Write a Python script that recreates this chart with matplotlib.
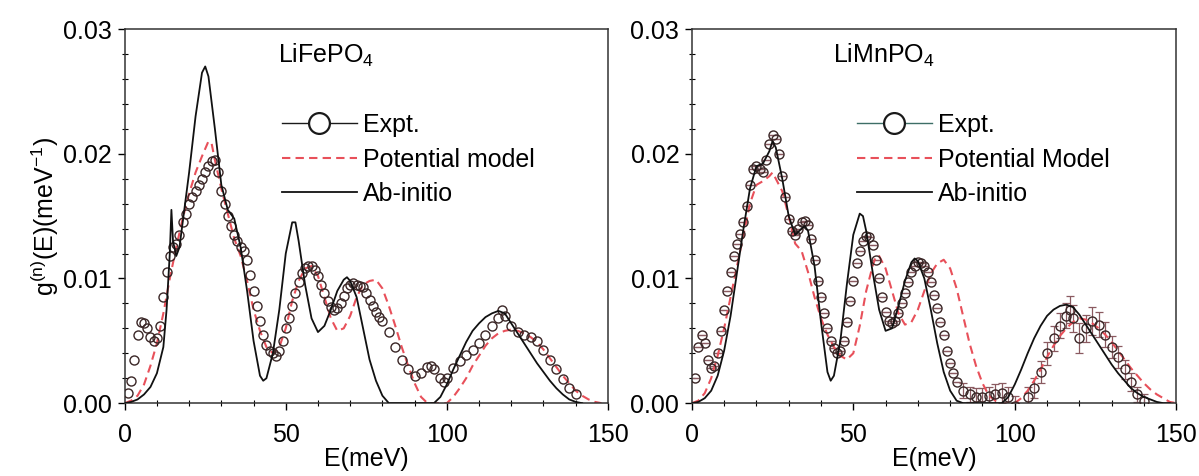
import numpy as np
import matplotlib
matplotlib.use("Agg")
import matplotlib.pyplot as plt
from matplotlib.lines import Line2D
from matplotlib.ticker import MultipleLocator, FormatStrFormatter

plt.rcParams['font.family'] = ['Liberation Sans', 'DejaVu Sans']
plt.rcParams['mathtext.default'] = 'regular'

# ---- LiFePO4 ----
fe_exp_E = [1, 2, 3, 4, 5, 6, 7, 8, 9, 10, 11, 12, 13, 14, 15, 16, 17, 18, 19, 20,
            21, 22, 23, 24, 25, 26, 27, 28, 29, 30, 31, 32, 33, 34, 35, 36, 37, 38, 39, 40,
            41, 42, 43, 44, 45, 46, 47, 48, 49, 50, 51, 52, 53, 54, 55, 56, 57, 58, 59, 60,
            61, 62, 63, 64, 65, 66, 67, 68, 69, 70, 71, 72, 73, 74, 75, 76, 77, 78, 79, 80,
            82, 84, 86, 88, 90, 92, 94, 95, 96, 98, 99, 100, 102, 104, 106, 108, 110, 112,
            114, 116, 117, 118, 120, 122, 124, 126, 128, 130, 132, 134, 136, 138, 140]
fe_exp_g = [0.0008, 0.0018, 0.0035, 0.0055, 0.0065, 0.0064, 0.0060, 0.0053, 0.0050, 0.0052,
            0.0062, 0.0085, 0.0105, 0.0118, 0.0125, 0.0128, 0.0135, 0.0145, 0.0152, 0.0160,
            0.0165, 0.0170, 0.0175, 0.0180, 0.0185, 0.0190, 0.0194, 0.0195, 0.0185, 0.0170,
            0.0160, 0.0150, 0.0142, 0.0135, 0.0130, 0.0125, 0.0122, 0.0115, 0.0103, 0.0090,
            0.0078, 0.0066, 0.0055, 0.0047, 0.0042, 0.0040, 0.0038, 0.0042, 0.0050, 0.0060,
            0.0068, 0.0078, 0.0088, 0.0097, 0.0104, 0.0108, 0.0110, 0.0110, 0.0107, 0.0102,
            0.0095, 0.0088, 0.0082, 0.0077, 0.0075, 0.0076, 0.0080, 0.0086, 0.0092, 0.0095,
            0.0096, 0.0095, 0.0094, 0.0093, 0.0088, 0.0083, 0.0078, 0.0073, 0.0069, 0.0066,
            0.0057, 0.0045, 0.0035, 0.0027, 0.0022, 0.0024, 0.0029, 0.0030, 0.0027, 0.0020,
            0.0017, 0.0020, 0.0028, 0.0034, 0.0039, 0.0043, 0.0048, 0.0055, 0.0062, 0.0068,
            0.0075, 0.0070, 0.0062, 0.0057, 0.0055, 0.0053, 0.0050, 0.0043, 0.0035, 0.0027,
            0.0019, 0.0012, 0.0007]

fe_pot_E = [0, 2, 4, 6, 8, 10, 12, 14, 16, 18, 20, 22, 24, 26, 27, 28, 30, 32, 34, 36,
            38, 40, 42, 44, 46, 48, 50, 52, 54, 56, 58, 60, 62, 64, 66, 68, 70, 72, 74, 76,
            78, 80, 82, 84, 86, 88, 90, 92, 94, 100, 102, 104, 106, 108, 110, 112, 114, 116,
            118, 120, 122, 124, 126, 128, 130, 132, 134, 136, 138, 140, 142, 144, 146, 148]
fe_pot_g = [0.0, 0.0002, 0.0006, 0.0015, 0.0030, 0.0048, 0.0072, 0.0100, 0.0125, 0.0148,
            0.0168, 0.0185, 0.0198, 0.0210, 0.0208, 0.0195, 0.0172, 0.0152, 0.0132, 0.0118,
            0.0098, 0.0075, 0.0058, 0.0045, 0.0040, 0.0045, 0.0060, 0.0082, 0.0098, 0.0108,
            0.0110, 0.0102, 0.0085, 0.0068, 0.0058, 0.0060, 0.0070, 0.0085, 0.0095, 0.0098,
            0.0099, 0.0092, 0.0078, 0.0062, 0.0045, 0.0030, 0.0016, 0.0005, 0.0, 0.0,
            0.0005, 0.0012, 0.0020, 0.0030, 0.0038, 0.0046, 0.0052, 0.0056, 0.0058, 0.0059,
            0.0058, 0.0056, 0.0053, 0.0049, 0.0043, 0.0036, 0.0029, 0.0022, 0.0016, 0.0010,
            0.0006, 0.0003, 0.0001, 0.0]

fe_abi_E = [0, 2, 4, 6, 8, 10, 12, 13, 14, 14.5, 15, 16, 17, 18, 20, 22, 24, 25, 26, 28,
            30, 32, 34, 36, 38, 40, 42, 43, 44, 46, 48, 50, 52, 53, 54, 56, 58, 60, 62, 64,
            66, 68, 69, 70, 72, 74, 76, 78, 80, 82, 96, 98, 100, 102, 104, 106, 108, 110,
            112, 114, 116, 118, 120, 122, 124, 126, 128, 130, 132, 134, 136, 138, 140, 142]
fe_abi_g = [0.0, 0.0001, 0.0003, 0.0007, 0.0013, 0.0024, 0.0045, 0.0075, 0.0120, 0.0155,
            0.0130, 0.0118, 0.0125, 0.0145, 0.0185, 0.0230, 0.0265, 0.0270, 0.0262, 0.0220,
            0.0175, 0.0155, 0.0148, 0.0125, 0.0090, 0.0050, 0.0022, 0.0018, 0.0020, 0.0040,
            0.0075, 0.0120, 0.0145, 0.0145, 0.0130, 0.0095, 0.0068, 0.0057, 0.0062, 0.0075,
            0.0090, 0.0099, 0.0101, 0.0098, 0.0085, 0.0060, 0.0035, 0.0018, 0.0006, 0.0,
            0.0, 0.0005, 0.0015, 0.0027, 0.0038, 0.0049, 0.0058, 0.0064, 0.0069, 0.0072,
            0.0074, 0.0072, 0.0064, 0.0056, 0.0048, 0.0040, 0.0032, 0.0025, 0.0018, 0.0012,
            0.0007, 0.0003, 0.0001, 0.0]

# ---- LiMnPO4 ----
mn_exp_E = [1, 2, 3, 4, 5, 6, 7, 8, 9, 10, 11, 12, 13, 14, 15, 16, 17, 18, 19, 20,
            21, 22, 23, 24, 25, 26, 27, 28, 29, 30, 31, 32, 33, 34, 35, 36, 37, 38, 39, 40,
            41, 42, 43, 44, 45, 46, 47, 48, 49, 50, 51, 52, 53, 54, 55, 56, 57, 58, 59, 60,
            61, 62, 63, 64, 65, 66, 67, 68, 69, 70, 71, 72, 73, 74, 75, 76, 77, 78, 79, 80,
            81, 82, 84, 86, 88, 90, 92, 94, 96, 98, 100, 104, 106, 108, 110, 112, 114, 116,
            117, 118, 120, 122, 124, 126, 128, 130, 132, 134, 136, 138, 140]
mn_exp_g = [0.0020, 0.0045, 0.0055, 0.0048, 0.0035, 0.0028, 0.0030, 0.0040, 0.0058, 0.0075,
            0.0090, 0.0105, 0.0118, 0.0128, 0.0136, 0.0145, 0.0158, 0.0175, 0.0188, 0.0190,
            0.0188, 0.0185, 0.0195, 0.0208, 0.0215, 0.0212, 0.0200, 0.0182, 0.0165, 0.0148,
            0.0138, 0.0135, 0.0140, 0.0145, 0.0146, 0.0143, 0.0132, 0.0115, 0.0098, 0.0085,
            0.0072, 0.0060, 0.0050, 0.0044, 0.0040, 0.0042, 0.0050, 0.0065, 0.0082, 0.0098,
            0.0112, 0.0122, 0.0130, 0.0134, 0.0133, 0.0127, 0.0115, 0.0100, 0.0085, 0.0073,
            0.0066, 0.0064, 0.0066, 0.0072, 0.0080, 0.0088, 0.0097, 0.0105, 0.0110, 0.0113,
            0.0112, 0.0110, 0.0105, 0.0097, 0.0087, 0.0076, 0.0065, 0.0055, 0.0042, 0.0032,
            0.0024, 0.0017, 0.0010, 0.0007, 0.0005, 0.0005, 0.0006, 0.0007, 0.0008, 0.0005,
            -0.0002, 0.0005, 0.0012, 0.0025, 0.0040, 0.0052, 0.0062, 0.0070, 0.0075, 0.0068,
            0.0052, 0.0060, 0.0066, 0.0063, 0.0055, 0.0045, 0.0037, 0.0027, 0.0017, 0.0007,
            0.0002]
mn_exp_err = [0.0] * 82 + [0.0006, 0.0006, 0.0007, 0.0007, 0.0007, 0.0008, 0.0008, 0.0008,
                           0.0008, 0.0008, 0.0008, 0.0009, 0.0009, 0.0010, 0.0010, 0.0010,
                           0.0011, 0.0011, 0.0012, 0.0011, 0.0011, 0.0010, 0.0010, 0.0009,
                           0.0009, 0.0008, 0.0007, 0.0006, 0.0005]

mn_pot_E = [0, 2, 4, 6, 8, 10, 12, 14, 16, 18, 20, 22, 24, 25, 26, 28, 30, 32, 33, 34,
            36, 38, 40, 42, 44, 46, 48, 50, 52, 54, 56, 57, 58, 60, 62, 64, 66, 68, 70, 72,
            74, 76, 78, 80, 82, 84, 86, 88, 90, 92, 94, 96, 100, 102, 104, 106, 108, 110,
            112, 114, 116, 118, 120, 122, 124, 126, 128, 130, 132, 134, 136, 138, 140, 142,
            144, 146, 148, 150]
mn_pot_g = [0.0, 0.0002, 0.0008, 0.0020, 0.0038, 0.0060, 0.0085, 0.0110, 0.0135, 0.0160,
            0.0175, 0.0178, 0.0182, 0.0185, 0.0180, 0.0170, 0.0150, 0.0128, 0.0125, 0.0122,
            0.0105, 0.0085, 0.0068, 0.0055, 0.0045, 0.0038, 0.0035, 0.0040, 0.0062, 0.0090,
            0.0110, 0.0118, 0.0118, 0.0108, 0.0090, 0.0072, 0.0063, 0.0065, 0.0075, 0.0090,
            0.0104, 0.0112, 0.0115, 0.0108, 0.0092, 0.0070, 0.0048, 0.0030, 0.0016, 0.0006,
            0.0002, 0.0, 0.0, 0.0004, 0.0010, 0.0018, 0.0027, 0.0037, 0.0046, 0.0054,
            0.0060, 0.0065, 0.0068, 0.0067, 0.0064, 0.0060, 0.0055, 0.0049, 0.0042, 0.0035,
            0.0028, 0.0022, 0.0016, 0.0011, 0.0007, 0.0004, 0.0001, 0.0]

mn_abi_E = [0, 2, 4, 6, 8, 10, 12, 14, 16, 18, 20, 22, 24, 25, 26, 28, 30, 32, 34, 35,
            36, 38, 40, 42, 43, 44, 46, 48, 50, 52, 53, 54, 56, 58, 60, 62, 64, 66, 68, 69,
            70, 72, 74, 76, 78, 80, 82, 84, 96, 98, 100, 102, 104, 106, 108, 110, 112, 114,
            116, 118, 120, 122, 124, 126, 128, 130, 132, 134, 136, 138, 140, 142, 144, 146, 148]
mn_abi_g = [0.0, 0.0001, 0.0004, 0.0010, 0.0022, 0.0042, 0.0070, 0.0105, 0.0140, 0.0172,
            0.0190, 0.0192, 0.0202, 0.0210, 0.0205, 0.0180, 0.0150, 0.0135, 0.0140, 0.0142,
            0.0138, 0.0110, 0.0065, 0.0025, 0.0018, 0.0022, 0.0050, 0.0095, 0.0135, 0.0152,
            0.0150, 0.0138, 0.0105, 0.0075, 0.0058, 0.0060, 0.0078, 0.0098, 0.0113, 0.0116,
            0.0114, 0.0100, 0.0075, 0.0048, 0.0025, 0.0010, 0.0002, 0.0, 0.0, 0.0005,
            0.0015, 0.0027, 0.0040, 0.0052, 0.0062, 0.0070, 0.0075, 0.0078, 0.0079, 0.0077,
            0.0071, 0.0063, 0.0055, 0.0047, 0.0039, 0.0031, 0.0024, 0.0018, 0.0012, 0.0008,
            0.0005, 0.0003, 0.0001, 0.0, 0.0]

panels = [
    dict(title='LiFePO$_4$', E=fe_exp_E, g=fe_exp_g, err=None,
         pE=fe_pot_E, pg=fe_pot_g, aE=fe_abi_E, ag=fe_abi_g,
         pot_label='Potential model', line_col='#1a1a1a', tx=0.317, lx=0.325),
    dict(title='LiMnPO$_4$', E=mn_exp_E, g=mn_exp_g, err=mn_exp_err,
         pE=mn_pot_E, pg=mn_pot_g, aE=mn_abi_E, ag=mn_abi_g,
         pot_label='Potential Model', line_col='#3d6e66', tx=0.291, lx=0.34),
]

fig = plt.figure(figsize=(11.99, 4.76), dpi=100)
axes = [fig.add_axes([0.104, 0.153, 0.403, 0.786]),
        fig.add_axes([0.577, 0.153, 0.404, 0.786])]

mk_col = '#3a2626'
pot_col = '#e8505a'
for ax, p in zip(axes, panels):
    if p['err'] is not None:
        ax.errorbar(p['E'], p['g'], yerr=p['err'], fmt='none', ecolor='#8a5a60',
                    elinewidth=0.9, capsize=3, capthick=0.9, zorder=2)
    # experimental points: open circles only
    ax.plot(p['E'], p['g'], 'o', ms=6.5, mfc='none', mec=mk_col, mew=1.0, zorder=3)
    ax.plot(p['pE'], p['pg'], '--', color=pot_col, lw=1.5, dashes=(4, 2.5), zorder=2)
    ax.plot(p['aE'], p['ag'], '-', color='#111111', lw=1.3, zorder=4)

    ax.set_xlim(0, 150)
    ax.set_ylim(0, 0.03)
    ax.xaxis.set_major_locator(MultipleLocator(50))
    ax.xaxis.set_minor_locator(MultipleLocator(10))
    ax.yaxis.set_major_locator(MultipleLocator(0.01))
    ax.yaxis.set_minor_locator(MultipleLocator(0.002))
    ax.yaxis.set_major_formatter(FormatStrFormatter('%.2f'))
    ax.tick_params(which='major', direction='out', length=5, width=1.0,
                   labelsize=18, pad=4, top=False, right=False)
    ax.tick_params(which='minor', direction='inout', length=4, width=0.8,
                   top=False, right=False)
    ax.tick_params(axis='x', which='major', pad=9)
    for s in ax.spines.values():
        s.set_linewidth(1.1)
        s.set_color('#333333')

    ax.text(p['tx'], 0.965, p['title'], transform=ax.transAxes, fontsize=18,
            va='top', ha='left')

    handles = [
        Line2D([], [], color=p['line_col'], lw=1.0, marker='o', ms=15, mfc='white',
               mec='#1a1a1a', mew=1.6),
        Line2D([], [], color=pot_col, lw=1.5, ls='--', dashes=(4, 2.5)),
        Line2D([], [], color='#111111', lw=1.3),
    ]
    ax.legend(handles, ['Expt.', p['pot_label'], 'Ab-initio'], loc='upper left',
              bbox_to_anchor=(p['lx'], 0.775), frameon=False, fontsize=18,
              handlelength=3.0, handletextpad=0.25, labelspacing=0.42,
              borderpad=0, borderaxespad=0)
    ax.set_xlabel('E(meV)', fontsize=18, labelpad=0)

axes[0].set_ylabel('g$^{(n)}$(E)(meV$^{-1}$)', fontsize=18, labelpad=2)

fig.savefig('out.png', dpi=100)
